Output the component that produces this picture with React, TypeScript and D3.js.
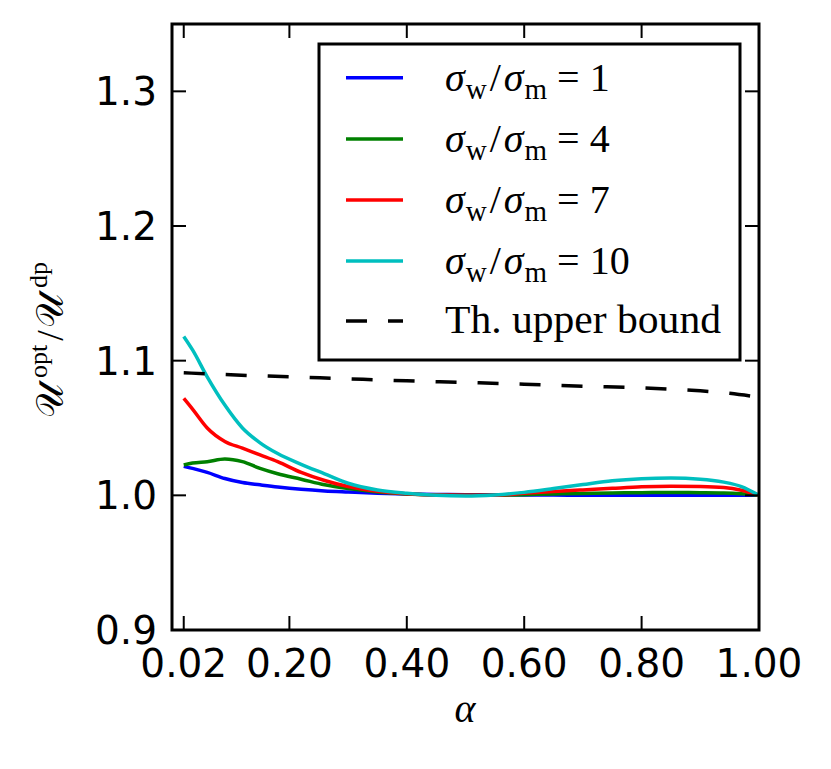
import React from "react";
import * as d3 from "d3";

const alpha = [0.02, 0.035, 0.06, 0.09, 0.12, 0.15, 0.18, 0.22, 0.26, 0.30, 0.35, 0.40, 0.45, 0.50, 0.55, 0.60, 0.65, 0.70, 0.75, 0.80, 0.85, 0.90, 0.94, 0.97, 1.00];

const ratio1 = [1.0215, 1.020, 1.017, 1.0125, 1.0095, 1.0078, 1.0062, 1.0045, 1.0033, 1.0025, 1.0016, 1.001, 1.0007, 1.0005, 1.0004, 1.0003, 1.0002, 1.0001, 1.0, 1.0, 1.0, 1.0, 1.0, 1.0, 1.0];
const ratio4 = [1.0225, 1.024, 1.025, 1.027, 1.025, 1.020, 1.016, 1.012, 1.0078, 1.005, 1.0025, 1.001, 1.0003, 1.0, 1.0, 1.0005, 1.001, 1.0014, 1.0017, 1.002, 1.0021, 1.002, 1.0018, 1.0012, 1.0];
const ratio7 = [1.072, 1.064, 1.050, 1.040, 1.035, 1.030, 1.025, 1.017, 1.011, 1.0065, 1.003, 1.0012, 1.0002, 1.0, 1.0, 1.0015, 1.0028, 1.004, 1.0052, 1.0063, 1.0067, 1.0065, 1.0058, 1.0038, 1.0];
const ratio10 = [1.118, 1.108, 1.088, 1.067, 1.050, 1.039, 1.031, 1.023, 1.016, 1.009, 1.004, 1.0015, 1.0, 0.9995, 1.0003, 1.0022, 1.005, 1.008, 1.0108, 1.0123, 1.0128, 1.012, 1.0098, 1.0065, 1.0];

const boundAlpha = [0.02, 0.1, 0.2, 0.3, 0.4, 0.5, 0.6, 0.7, 0.8, 0.85, 0.9, 0.95, 1.0];
const boundValues = [1.091, 1.0895, 1.088, 1.0865, 1.085, 1.0838, 1.0825, 1.081, 1.0798, 1.0788, 1.0776, 1.0758, 1.0728];

const xTicks = [0.02, 0.2, 0.4, 0.6, 0.8, 1.0];
const yTicks = [0.9, 1.0, 1.1, 1.2, 1.3];

const seriesNames = ["1", "4", "7", "10"];
const seriesColors = ["#0000ff", "#008000", "#ff0000", "#00bfbf"];
const seriesData = [ratio1, ratio4, ratio7, ratio10];

const W = 831, H = 769;
const L = 172, R = 759, T = 24, B = 630;

export default function App() {
  const x = d3.scaleLinear().domain([0, 1]).range([L, R]);
  const y = d3.scaleLinear().domain([0.9, 1.35]).range([B, T]);
  const line = d3
    .line<[number, number]>()
    .x((d) => x(d[0]))
    .y((d) => y(d[1]))
    .curve(d3.curveMonotoneX);

  const tickFont = "'DejaVu Sans', sans-serif";
  const serif = "'Liberation Serif', 'DejaVu Serif', serif";
  const legRows = [77.7, 139, 200, 261, 321];

  return (
    <div style={{ position: "absolute", left: 0, top: 0 }}>
      <svg width={W} height={H} viewBox={`0 0 ${W} ${H}`} style={{ display: "block", background: "#fff" }}>
        <defs>
          <clipPath id="plotclip">
            <rect x={L} y={T} width={R - L} height={B - T} />
          </clipPath>
        </defs>
        <g clipPath="url(#plotclip)">
          {seriesData.map((vals, i) => (
            <path
              key={i}
              d={line(alpha.map((a, j) => [a, vals[j]] as [number, number])) || ""}
              fill="none"
              stroke={seriesColors[i]}
              strokeWidth={3.5}
            />
          ))}
          <path
            d={line(boundAlpha.map((a, j) => [a, boundValues[j]] as [number, number])) || ""}
            fill="none"
            stroke="#000"
            strokeWidth={3.5}
            strokeDasharray="21,21"
          />
        </g>
        {/* ticks */}
        {xTicks.map((t) => (
          <g key={"x" + t}>
            <line x1={x(t)} x2={x(t)} y1={B} y2={B - 14} stroke="#000" strokeWidth={2} />
            <line x1={x(t)} x2={x(t)} y1={T} y2={T + 14} stroke="#000" strokeWidth={2} />
            <text x={x(t)} y={677} textAnchor="middle" fontFamily={tickFont} fontSize={39} fill="#000">
              {t.toFixed(2)}
            </text>
          </g>
        ))}
        {yTicks.map((t) => (
          <g key={"y" + t}>
            <line x1={L} x2={L + 14} y1={y(t)} y2={y(t)} stroke="#000" strokeWidth={2} />
            <line x1={R} x2={R - 14} y1={y(t)} y2={y(t)} stroke="#000" strokeWidth={2} />
            <text x={157} y={y(t) + 14} textAnchor="end" fontFamily={tickFont} fontSize={39} fill="#000">
              {t.toFixed(1)}
            </text>
          </g>
        ))}
        <rect x={L} y={T} width={R - L} height={B - T} fill="none" stroke="#000" strokeWidth={3} />

        {/* legend */}
        <rect x={319} y={44} width={421} height={316} fill="#fff" stroke="#000" strokeWidth={3} />
        {seriesNames.map((n, i) => (
          <g key={"leg" + n}>
            <line x1={346} x2={403} y1={legRows[i]} y2={legRows[i]} stroke={seriesColors[i]} strokeWidth={3.5} />
            <text x={445} y={legRows[i] + 13} fontFamily={serif} fontSize={40} fill="#000">
              <tspan fontStyle="italic">σ</tspan>
              <tspan fontSize={29} dy={8} dx={1}>w</tspan>
              <tspan dy={-8} dx={3}>/</tspan>
              <tspan fontStyle="italic" dx={3}>σ</tspan>
              <tspan fontSize={29} dy={8} dx={1}>m</tspan>
              <tspan dy={-8} dx={10}>=</tspan>
              <tspan dx={10}>{n}</tspan>
            </text>
          </g>
        ))}
        <line x1={346} x2={403} y1={legRows[4]} y2={legRows[4]} stroke="#000" strokeWidth={3.5} strokeDasharray="21,21" />
        <text x={445} y={legRows[4] + 12} fontFamily={serif} fontSize={40} fill="#000" textLength={276} lengthAdjust="spacingAndGlyphs">
          Th. upper bound
        </text>

        {/* axis labels */}
        <text x={465} y={722} textAnchor="middle" fontFamily={serif} fontStyle="italic" fontSize={40} fill="#000">
          α
        </text>
        <text
          transform={`translate(63, 340) rotate(-90)`}
          textAnchor="middle"
          fontFamily={serif}
          fontSize={38}
          fill="#000"
        >
          <tspan>𝒰</tspan>
          <tspan fontSize={26} dy={-16} dx={6}>opt</tspan>
          <tspan dy={16} dx={4}>/</tspan>
          <tspan dx={2}>𝒰</tspan>
          <tspan fontSize={26} dy={-16} dx={6}>dp</tspan>
        </text>
      </svg>
    </div>
  );
}
